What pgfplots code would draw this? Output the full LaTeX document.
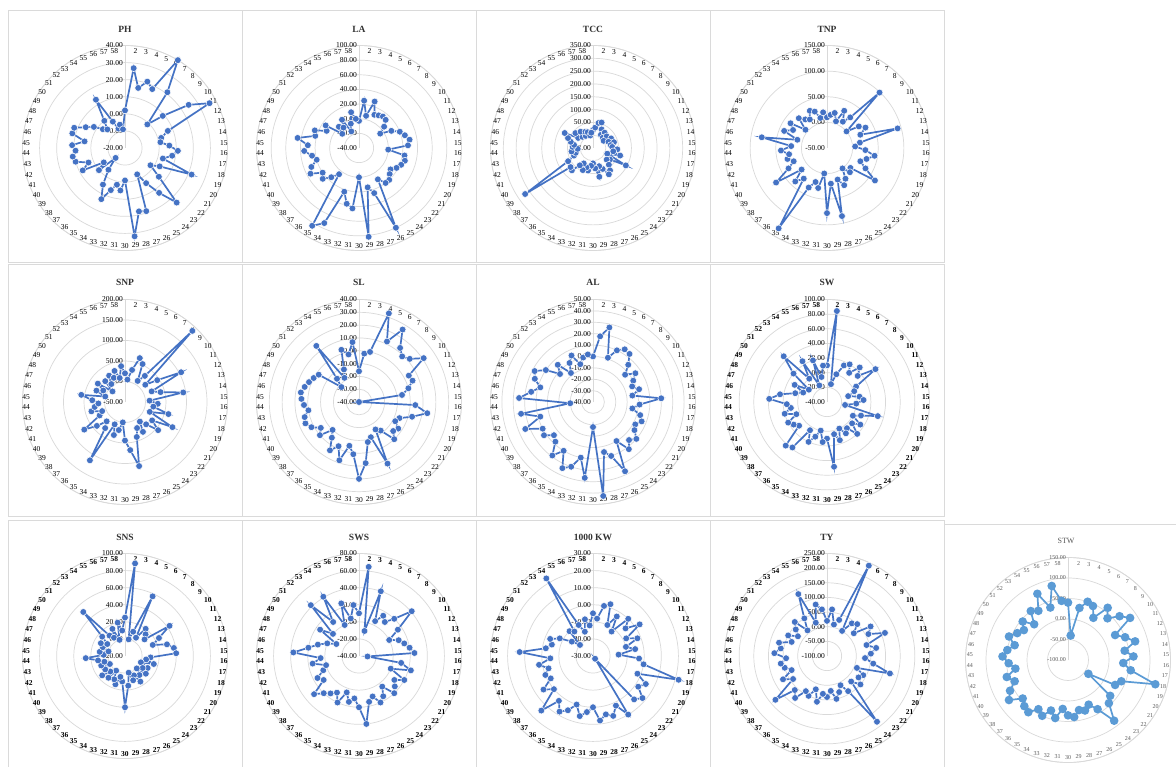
\documentclass[border=0pt]{standalone}
\usepackage{fontspec}
\setmainfont{Liberation Serif}
\usepackage{pgfplots}
\usepackage{pgfplotstable}
\pgfplotsset{compat=1.18}
\usepgfplotslibrary{polar}

\definecolor{ptblue}{HTML}{4472C4}
\definecolor{ptlight}{HTML}{5B9BD5}
\definecolor{ringgray}{HTML}{D9D9D9}
\definecolor{framegray}{HTML}{DADADA}
\definecolor{labgray}{HTML}{595959}

% one column of 58 genotype values per trait
\pgfplotstableread[row sep=\\]{v\\2\\27\\16\\21\\18\\40\\21\\-1\\9\\25\\36\\7\\2\\1\\6\\11\\8\\3\\22\\3\\-2\\6\\24\\13\\4\\-3\\19\\18\\32\\-1\\5\\2\\6\\13\\5\\-4\\-12\\0\\-5\\8\\3\\10\\11\\9\\11\\4\\12\\12\\6\\2\\-3\\-5\\0\\13\\-3\\-8\\-6\\-9\\}\tabPH
\pgfplotstableread[row sep=\\]{v\\-3\\25\\5\\27\\10\\12\\14\\13\\5\\-5\\10\\20\\25\\30\\27\\0\\23\\25\\22\\18\\12\\15\\20\\20\\10\\80\\25\\15\\82\\0\\43\\38\\23\\73\\84\\5\\15\\25\\20\\35\\30\\20\\25\\35\\30\\45\\22\\25\\10\\15\\-10\\0\\-5\\5\\-15\\-5\\10\\0\\}\tabLA
\pgfplotstableread[row sep=\\]{v\\20\\30\\50\\55\\30\\10\\25\\5\\20\\0\\30\\15\\35\\20\\25\\45\\30\\60\\10\\95\\30\\20\\40\\60\\70\\40\\25\\65\\30\\10\\20\\40\\30\\45\\20\\35\\70\\65\\270\\60\\30\\20\\35\\10\\30\\25\\40\\55\\75\\20\\40\\10\\30\\5\\20\\15\\0\\10\\}\tabTCC
\pgfplotstableread[row sep=\\]{v\\10\\15\\20\\5\\30\\10\\25\\99\\0\\25\\35\\20\\93\\15\\5\\25\\44\\30\\20\\35\\63\\10\\15\\0\\20\\30\\15\\86\\20\\77\\0\\30\\20\\35\\133\\25\\40\\15\\70\\35\\20\\30\\25\\40\\20\\79\\10\\40\\25\\36\\5\\30\\20\\15\\30\\25\\10\\20\\}\tabTNP
\pgfplotstableread[row sep=\\]{v\\20\\5\\30\\63\\52\\10\\30\\189\\15\\45\\105\\20\\40\\94\\10\\30\\20\\60\\15\\81\\30\\56\\25\\10\\35\\20\\40\\110\\68\\44\\0\\20\\35\\10\\116\\30\\15\\40\\70\\20\\10\\35\\25\\15\\30\\58\\0\\25\\10\\30\\-10\\20\\5\\25\\15\\30\\10\\38\\}\tabSNP
\pgfplotstableread[row sep=\\]{v\\-16\\-2\\0\\33\\12\\26\\13\\9\\12\\21\\4\\5\\0\\-6\\-40\\4\\14\\3\\-6\\-8\\-3\\-5\\0\\-12\\-15\\13\\-11\\-8\\8\\20\\1\\-5\\8\\-2\\4\\-5\\-10\\0\\-4\\2\\5\\4\\0\\3\\5\\6\\4\\2\\0\\-2\\-22\\-15\\15\\-18\\-12\\3\\-2\\7\\}\tabSL
\pgfplotstableread[row sep=\\]{v\\0\\18\\27\\1\\10\\14\\13\\5\\-3\\5\\0\\-3\\2\\-5\\20\\1\\-5\\3\\6\\2\\4\\10\\6\\12\\0\\27\\10\\5\\43\\-18\\27\\10\\20\\24\\10\\19\\8\\5\\12\\10\\24\\8\\24\\-20\\25\\15\\8\\15\\18\\10\\-2\\5\\-8\\0\\5\\-5\\0\\2\\}\tabAL
\pgfplotstableread[row sep=\\]{v\\10\\85\\-15\\0\\15\\20\\10\\25\\15\\40\\5\\0\\-10\\5\\10\\0\\-15\\32\\10\\0\\15\\5\\20\\5\\10\\0\\15\\5\\49\\10\\15\\0\\10\\20\\5\\38\\42\\10\\15\\20\\5\\20\\10\\15\\39\\25\\5\\-5\\10\\-10\\20\\46\\0\\25\\-15\\20\\-5\\10\\}\tabSW
\pgfplotstableread[row sep=\\]{v\\25\\89\\0\\10\\57\\5\\20\\15\\10\\43\\25\\15\\31\\38\\40\\10\\5\\15\\0\\10\\5\\12\\0\\8\\15\\5\\10\\0\\15\\40\\10\\5\\15\\10\\0\\12\\5\\15\\8\\0\\10\\5\\12\\26\\5\\10\\0\\8\\12\\5\\15\\51\\10\\5\\15\\0\\20\\10\\}\tabSNS
\pgfplotstableread[row sep=\\]{v\\10\\65\\-10\\40\\5\\15\\10\\20\\41\\15\\0\\10\\15\\20\\25\\-30\\10\\23\\0\\20\\10\\15\\20\\5\\15\\20\\10\\15\\40\\20\\10\\15\\5\\20\\10\\15\\20\\29\\10\\15\\5\\0\\15\\5\\37\\20\\10\\0\\-10\\15\\0\\42\\10\\41\\0\\25\\5\\20\\}\tabSWS
\pgfplotstableread[row sep=\\]{v\\-5\\-8\\0\\2\\-10\\-3\\-12\\0\\-5\\3\\-8\\-2\\-10\\-5\\-15\\-3\\0\\22\\-2\\5\\2\\8\\5\\-28\\10\\2\\7\\5\\8\\0\\3\\6\\0\\5\\8\\3\\14\\0\\5\\-2\\0\\-3\\2\\-5\\13\\-2\\-5\\-3\\-8\\-15\\-20\\-10\\-12\\23\\-10\\-15\\-8\\-12\\}\tabKW
\pgfplotstableread[row sep=\\]{v\\20\\60\\10\\30\\240\\0\\40\\50\\20\\80\\60\\113\\40\\70\\50\\30\\60\\123\\10\\40\\30\\50\\20\\182\\40\\10\\30\\50\\20\\40\\30\\60\\20\\50\\40\\80\\60\\131\\40\\70\\30\\50\\60\\40\\80\\60\\70\\30\\50\\20\\40\\60\\10\\50\\133\\20\\80\\60\\}\tabTY
\pgfplotstableread[row sep=\\]{v\\40\\-40\\30\\50\\45\\20\\60\\40\\65\\83\\30\\50\\70\\40\\60\\35\\55\\121\\40\\30\\-40\\35\\45\\86\\40\\20\\30\\25\\40\\35\\20\\45\\30\\50\\40\\60\\55\\45\\74\\60\\40\\55\\30\\45\\60\\50\\35\\55\\40\\30\\45\\20\\50\\40\\78\\35\\85\\45\\}\tabSTW

% genotype k sits at 90 - (k-1)*360/58 degrees, clockwise from the top
\def\ang{90-\coordindex*6.20689655}

\pgfplotsset{
  radar/.style={
    anchor=origin, scale only axis, width=205pt, height=205pt,
    xmin=-270, xmax=90, ymin=0, clip=false,
    xtick={90,83.79310345,...,-264},
    xticklabels={1,2,3,4,5,6,7,8,9,10,11,12,13,14,15,16,17,18,19,20,21,22,23,24,25,26,27,28,29,30,31,32,33,34,35,36,37,38,39,40,41,42,43,44,45,46,47,48,49,50,51,52,53,54,55,56,57,58},
    xmajorgrids=false, ymajorgrids=true,
    grid style={ringgray, line width=0.7pt},
    axis line style={ringgray, line width=0.7pt},
    major tick length=0pt,
    xticklabel shift=-8pt,
    xticklabel style={font=\fontsize{7.5}{7.5}\selectfont, inner sep=0.5pt},
    yticklabel style={font=\fontsize{7.5}{7.5}\selectfont, inner sep=1pt, anchor=east, xshift=-1pt},
  },
  boldcats/.style={xticklabel style={font=\fontsize{7.5}{7.5}\selectfont\bfseries}},
  series/.style={ptblue, line width=1.7pt, mark=*, mark size=3.4pt,
    mark options={fill=ptblue, draw=white, line width=0.5pt, solid}},
}

\begin{document}
\begin{tikzpicture}[x=1pt, y=1pt]
\useasboundingbox (0,0) rectangle (1176,-767);
\fill[white] (0,0) rectangle (1176,-767);

% panel frames
\foreach \xa/\xb in {8/242, 242/476, 476/710, 710/944}{
  \foreach \ya/\yb in {10/262, 264/516, 520/767}{
    \draw[framegray, line width=0.8pt] (\xa,-\ya) rectangle (\xb,-\yb);
  }
}
\draw[framegray, line width=0.8pt] (944,-524) rectangle (1176,-767);

% titles
\foreach \cx/\cy/\t in {125/29/PH, 359/29/LA, 593/29/TCC, 827/29/TNP,
  125/282/SNP, 359/282/SL, 593/282/AL, 827/282/SW,
  125/537/SNS, 359/537/SWS, 593/537/1000 KW, 827/537/TY}{
  \node[font=\fontsize{9.5}{10}\selectfont\bfseries, text=black!80] at (\cx,-\cy) {\t};
}
\node[font=\fontsize{8}{9}\selectfont, text=labgray] at (1066,-541) {STW};

% ---------- row 1 ----------
\begin{polaraxis}[radar, at={(125pt,-148pt)}, ymax=60, ytick={0,10,...,60},
  yticklabels={-20.00,-10.00,0.00,10.00,20.00,30.00,40.00}]
\addplot[series] table[x index=0, y index=0, x expr=\ang, y expr=\thisrow{v}+20] {\tabPH} -- cycle;
\end{polaraxis}

\begin{polaraxis}[radar, at={(359pt,-148pt)}, ymax=140, ytick={0,20,...,140},
  yticklabels={-40.00,-20.00,0.00,20.00,40.00,60.00,80.00,100.00}]
\addplot[series] table[x index=0, y index=0, x expr=\ang, y expr=\thisrow{v}+40] {\tabLA} -- cycle;
\end{polaraxis}

\begin{polaraxis}[radar, at={(593pt,-148pt)}, ymax=400, ytick={0,50,...,400},
  yticklabels={-50.00,0.00,50.00,100.00,150.00,200.00,250.00,300.00,350.00}]
\addplot[series] table[x index=0, y index=0, x expr=\ang, y expr=\thisrow{v}+50] {\tabTCC} -- cycle;
\end{polaraxis}

\begin{polaraxis}[radar, at={(827pt,-148pt)}, ymax=200, ytick={0,50,...,200},
  yticklabels={-50.00,0.00,50.00,100.00,150.00}]
\addplot[series] table[x index=0, y index=0, x expr=\ang, y expr=\thisrow{v}+50] {\tabTNP} -- cycle;
\end{polaraxis}

% ---------- row 2 ----------
\begin{polaraxis}[radar, at={(125pt,-402pt)}, ymax=250, ytick={0,50,...,250},
  yticklabels={-50.00,0.00,50.00,100.00,150.00,200.00}]
\addplot[series] table[x index=0, y index=0, x expr=\ang, y expr=\thisrow{v}+50] {\tabSNP} -- cycle;
\end{polaraxis}

\begin{polaraxis}[radar, at={(359pt,-402pt)}, ymax=80, ytick={0,10,...,80},
  yticklabels={-40.00,-30.00,-20.00,-10.00,0.00,10.00,20.00,30.00,40.00}]
\addplot[series] table[x index=0, y index=0, x expr=\ang, y expr=\thisrow{v}+40] {\tabSL} -- cycle;
\end{polaraxis}

\begin{polaraxis}[radar, at={(593pt,-402pt)}, ymax=90, ytick={0,10,...,90},
  yticklabels={-40.00,-30.00,-20.00,-10.00,0.00,10.00,20.00,30.00,40.00,50.00}]
\addplot[series] table[x index=0, y index=0, x expr=\ang, y expr=\thisrow{v}+40] {\tabAL} -- cycle;
\end{polaraxis}

\begin{polaraxis}[radar, boldcats, at={(827pt,-402pt)}, ymax=140, ytick={0,20,...,140},
  yticklabels={-40.00,-20.00,0.00,20.00,40.00,60.00,80.00,100.00}]
\addplot[series] table[x index=0, y index=0, x expr=\ang, y expr=\thisrow{v}+40] {\tabSW} -- cycle;
\end{polaraxis}

% ---------- row 3 ----------
\begin{polaraxis}[radar, boldcats, at={(125pt,-656pt)}, ymax=120, ytick={0,20,...,120},
  yticklabels={-20.00,0.00,20.00,40.00,60.00,80.00,100.00}]
\addplot[series] table[x index=0, y index=0, x expr=\ang, y expr=\thisrow{v}+20] {\tabSNS} -- cycle;
\end{polaraxis}

\begin{polaraxis}[radar, boldcats, at={(359pt,-656pt)}, ymax=120, ytick={0,20,...,120},
  yticklabels={-40.00,-20.00,0.00,20.00,40.00,60.00,80.00}]
\addplot[series] table[x index=0, y index=0, x expr=\ang, y expr=\thisrow{v}+40] {\tabSWS} -- cycle;
\end{polaraxis}

\begin{polaraxis}[radar, boldcats, at={(593pt,-656pt)}, ymax=60, ytick={0,10,...,60},
  yticklabels={-30.00,-20.00,-10.00,0.00,10.00,20.00,30.00}]
\addplot[series] table[x index=0, y index=0, x expr=\ang, y expr=\thisrow{v}+30] {\tabKW} -- cycle;
\end{polaraxis}

\begin{polaraxis}[radar, boldcats, at={(827pt,-656pt)}, ymax=350, ytick={0,50,...,350},
  yticklabels={-100.00,-50.00,0.00,50.00,100.00,150.00,200.00,250.00}]
\addplot[series] table[x index=0, y index=0, x expr=\ang, y expr=\thisrow{v}+100] {\tabTY} -- cycle;
\end{polaraxis}

\begin{polaraxis}[radar, at={(1068pt,-660pt)}, ymax=250, ytick={0,50,...,250},
  xticklabel style={font=\fontsize{6}{6}\selectfont, text=labgray},
  yticklabel style={font=\fontsize{6}{6}\selectfont, text=labgray},
  yticklabels={-100.00,-50.00,0.00,50.00,100.00,150.00}]
\addplot[series, ptlight, mark options={fill=ptlight}] table[x index=0, y index=0, x expr=\ang, y expr=\thisrow{v}+100] {\tabSTW} -- cycle;
\end{polaraxis}
\end{tikzpicture}
\end{document}
